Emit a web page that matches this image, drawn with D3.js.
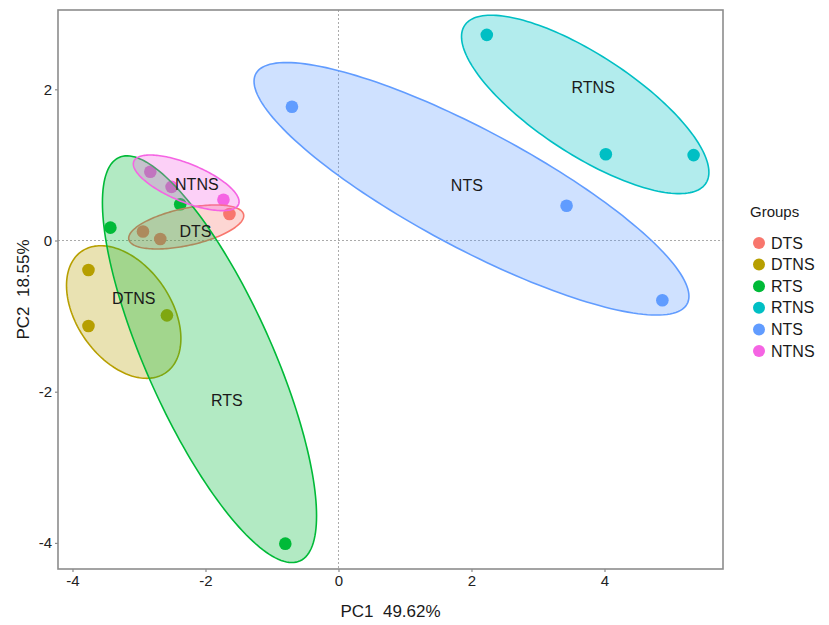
<!DOCTYPE html>
<html>
<head>
<meta charset="utf-8">
<script src="https://cdn.jsdelivr.net/npm/d3@7"></script>
<style>
  body { margin: 0; background: #fff; }
  text { font-family: "Liberation Sans", Arial, sans-serif; }
</style>
</head>
<body>
<div id="chart"></div>
<script>
// Groups and colours (ggplot default hue palette)
const groups = ["DTS", "DTNS", "RTS", "RTNS", "NTS", "NTNS"];
const colors = ["#F8766D", "#B79F00", "#00BA38", "#00BFC4", "#619CFF", "#F564E3"];

// Sample scores
const pointGroup = ["DTS", "DTS", "DTS", "DTNS", "DTNS", "DTNS", "RTS", "RTS", "RTS",
  "RTNS", "RTNS", "RTNS", "NTS", "NTS", "NTS", "NTNS", "NTNS", "NTNS"];
const pc1 = [-2.94, -2.68, -1.64, -3.76, -3.76, -2.58, -2.38, -3.43, -0.80,
  2.23, 4.02, 5.34, -0.70, 3.43, 4.87, -2.83, -1.73, -2.51];
const pc2 = [0.12, 0.02, 0.35, -0.39, -1.13, -0.99, 0.48, 0.17, -4.01,
  2.72, 1.14, 1.13, 1.77, 0.46, -0.79, 0.91, 0.54, 0.71];

// Ellipses: centre, half extent along each axis, correlation (same order as groups)
const ellCx = [-2.29, -3.23, -1.94, 3.71, 2.0, -2.29];
const ellCy = [0.179, -0.946, -1.57, 1.80, 0.684, 0.763];
const ellSx = [0.865, 0.86, 1.61, 1.86, 3.27, 0.795];
const ellSy = [0.291, 0.877, 2.69, 1.18, 1.67, 0.368];
const ellR = [0.51, -0.40, -0.77, -0.76, -0.851, -0.68];

// Group labels inside the ellipses
const labelX = [-2.15, -3.08, -1.68, 3.83, 1.93, -2.13];
const labelY = [0.12, -0.77, -2.12, 2.02, 0.73, 0.74];

const xTicks = [-4, -2, 0, 2, 4];
const yTicks = [-4, -2, 0, 2];

const width = 829;
const height = 625;
const panel = { left: 58, right: 723, top: 10, bottom: 569 };

const svg = d3.select("#chart")
  .append("svg")
  .attr("width", width)
  .attr("height", height);

const x = d3.scaleLinear().domain([-4.218, 5.782]).range([panel.left, panel.right]);
const y = d3.scaleLinear().domain([-4.345, 3.049]).range([panel.bottom, panel.top]);

const color = d3.scaleOrdinal().domain(groups).range(colors);

// zero lines
svg.append("line")
  .attr("x1", x(0)).attr("x2", x(0))
  .attr("y1", panel.top).attr("y2", panel.bottom)
  .attr("stroke", "#aaa").attr("stroke-width", 1)
  .attr("stroke-dasharray", "2 2");
svg.append("line")
  .attr("x1", panel.left).attr("x2", panel.right)
  .attr("y1", y(0)).attr("y2", y(0))
  .attr("stroke", "#aaa").attr("stroke-width", 1)
  .attr("stroke-dasharray", "2 2");

// points (drawn under the ellipses, like the original)
svg.selectAll("circle.pt")
  .data(pc1)
  .join("circle")
  .attr("class", "pt")
  .attr("cx", (d) => x(d))
  .attr("cy", (d, i) => y(pc2[i]))
  .attr("r", 6.3)
  .attr("fill", (d, i) => color(pointGroup[i]));

// ellipses
const line = d3.line().curve(d3.curveLinearClosed);
groups.forEach((g, i) => {
  const pts = d3.range(0, 361, 2).map((deg) => {
    const t = (deg * Math.PI) / 180;
    const dx = ellSx[i] * Math.cos(t);
    const dy = ellSy[i] * (ellR[i] * Math.cos(t) + Math.sqrt(1 - ellR[i] * ellR[i]) * Math.sin(t));
    return [x(ellCx[i] + dx), y(ellCy[i] + dy)];
  });
  svg.append("path")
    .attr("d", line(pts))
    .attr("fill", color(g))
    .attr("fill-opacity", 0.3)
    .attr("stroke", color(g))
    .attr("stroke-width", 1.6);
});

// group labels
svg.selectAll("text.lab")
  .data(groups)
  .join("text")
  .attr("class", "lab")
  .attr("x", (d, i) => x(labelX[i]))
  .attr("y", (d, i) => y(labelY[i]))
  .attr("dy", "0.35em")
  .attr("text-anchor", "middle")
  .style("font-size", "16px")
  .style("fill", "#1a1a1a")
  .text((d) => d);

// panel border
svg.append("rect")
  .attr("x", panel.left).attr("y", panel.top)
  .attr("width", panel.right - panel.left)
  .attr("height", panel.bottom - panel.top)
  .attr("fill", "none")
  .attr("stroke", "#8c8c8c")
  .attr("stroke-width", 1.6);

// axes (plain hyphen for negatives)
const xAxis = svg.append("g")
  .attr("transform", `translate(0,${panel.bottom})`)
  .call(d3.axisBottom(x).tickValues(xTicks).tickSize(3).tickPadding(3).tickFormat((d) => String(d)));
const yAxis = svg.append("g")
  .attr("transform", `translate(${panel.left},0)`)
  .call(d3.axisLeft(y).tickValues(yTicks).tickSize(3).tickPadding(3).tickFormat((d) => String(d)));
[xAxis, yAxis].forEach((a) => {
  a.select(".domain").remove();
  a.selectAll(".tick line").attr("stroke", "#8c8c8c").attr("stroke-width", 1.2);
  a.selectAll(".tick text")
    .style("font-size", "15px")
    .style("font-family", "'Liberation Sans', Arial, sans-serif")
    .style("fill", "#222");
});

// axis titles
svg.append("text")
  .attr("x", (panel.left + panel.right) / 2)
  .attr("y", 617)
  .attr("text-anchor", "middle")
  .style("font-size", "17px")
  .style("fill", "#1a1a1a")
  .style("white-space", "pre")
  .text("PC1  49.62%");
svg.append("text")
  .attr("transform", `translate(29,${(panel.top + panel.bottom) / 2}) rotate(-90)`)
  .attr("text-anchor", "middle")
  .style("font-size", "17px")
  .style("fill", "#1a1a1a")
  .style("white-space", "pre")
  .text("PC2  18.55%");

// legend
const legend = svg.append("g").attr("transform", "translate(750,0)");
legend.append("text")
  .attr("x", 0).attr("y", 212).attr("dy", "0.35em")
  .style("font-size", "15px")
  .style("fill", "#1a1a1a")
  .text("Groups");
const item = legend.selectAll("g.item")
  .data(groups)
  .join("g")
  .attr("class", "item")
  .attr("transform", (d, i) => `translate(0,${243 + i * 21.6})`);
item.append("circle")
  .attr("cx", 9).attr("cy", 0).attr("r", 6)
  .attr("fill", (d) => color(d));
item.append("text")
  .attr("x", 21).attr("y", 0).attr("dy", "0.35em")
  .style("font-size", "16px")
  .style("fill", "#1a1a1a")
  .text((d) => d);
</script>
</body>
</html>
